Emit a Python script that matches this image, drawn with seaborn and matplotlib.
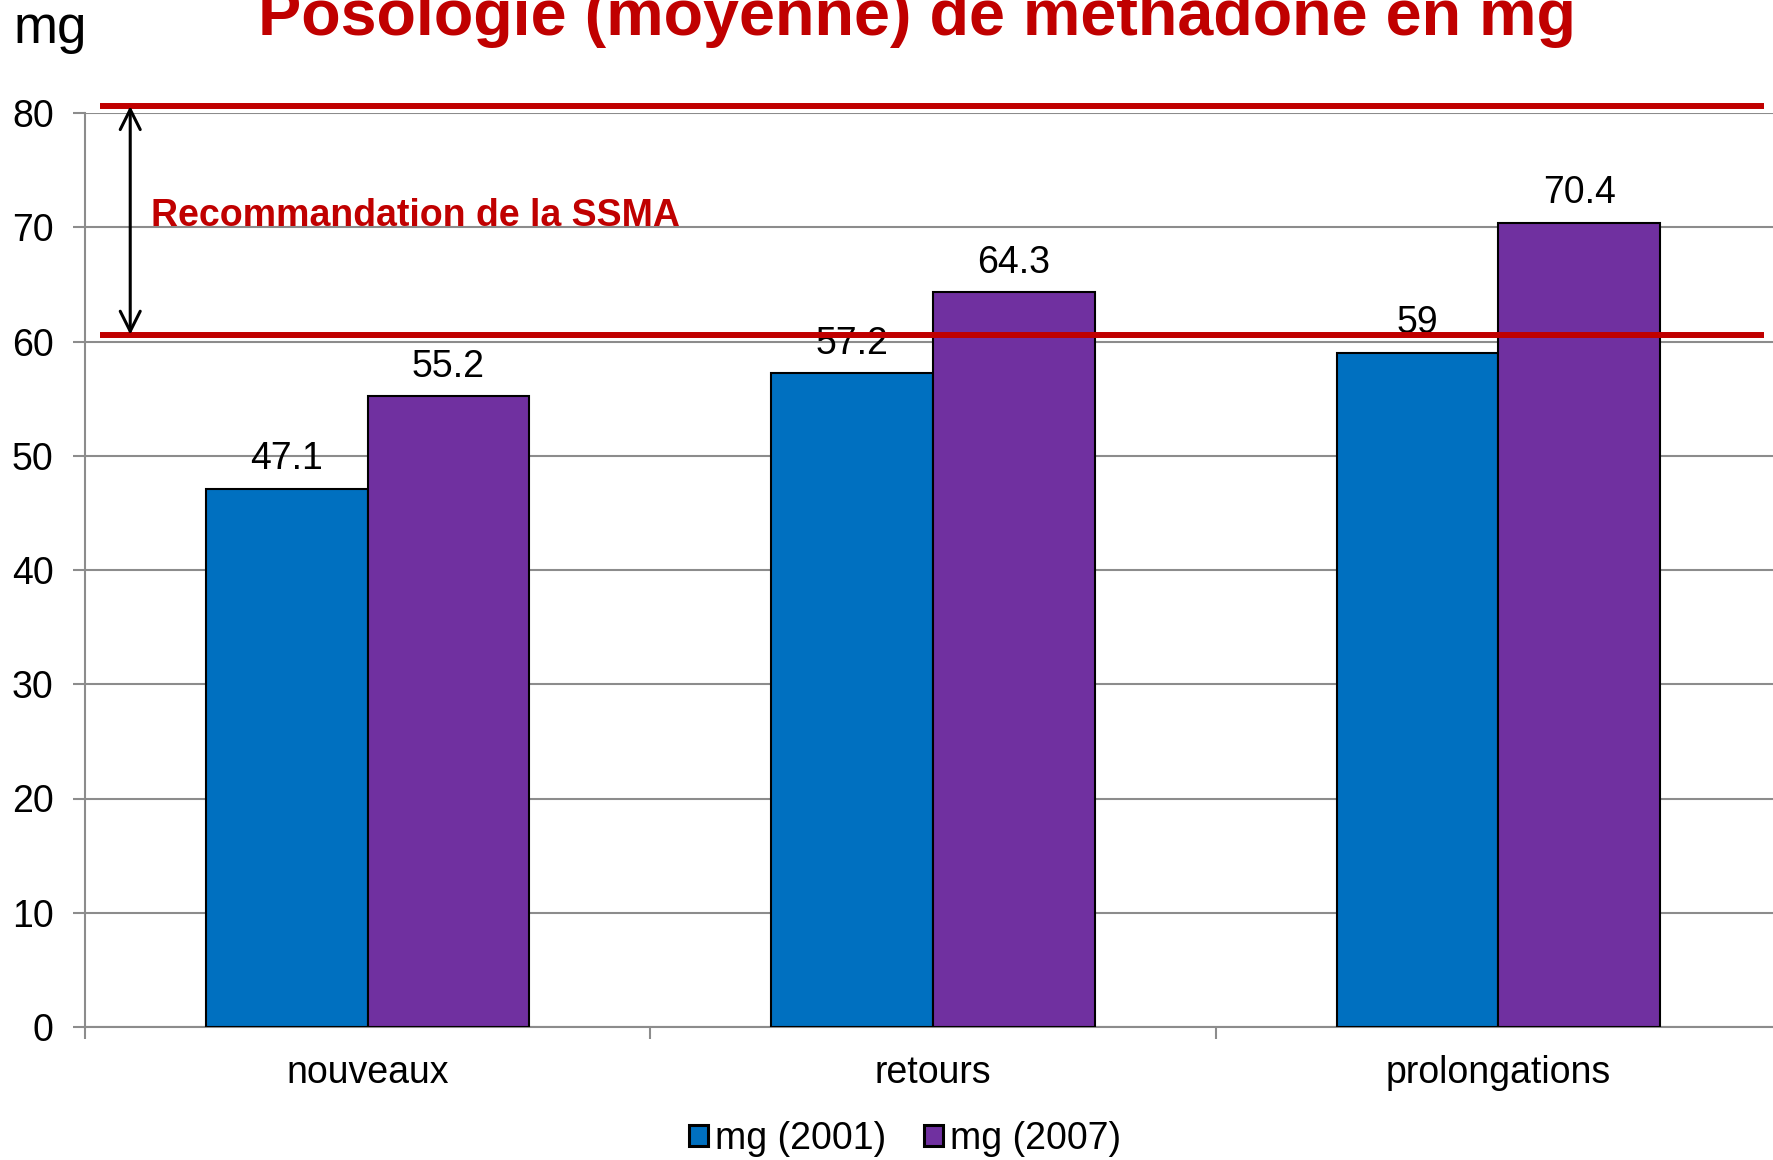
import pandas as pd
import matplotlib.pyplot as plt
import seaborn as sns

# chart values
categories = ['nouveaux', 'retours', 'prolongations']
years = ['mg (2001)', 'mg (2007)']
values_2001 = [47.1, 57.2, 59]
values_2007 = [55.2, 64.3, 70.4]
ssma_low, ssma_high = 60.6, 80.6
y_ticks = [0, 10, 20, 30, 40, 50, 60, 70, 80]

BLUE = '#0070C0'
PURPLE = '#7030A0'
RED = '#C00000'
GRAY = '#8C8C8C'

df = pd.DataFrame({
    'categorie': categories * 2,
    'annee': [years[0]] * 3 + [years[1]] * 3,
    'mg': values_2001 + values_2007,
})

sns.set_style('white')
plt.rcParams['font.family'] = ['Liberation Sans', 'DejaVu Sans']
plt.rcParams['text.color'] = 'black'
plt.rcParams['xtick.labelcolor'] = 'black'
plt.rcParams['ytick.labelcolor'] = 'black'

fig = plt.figure(figsize=(17.73, 11.60), dpi=100)
ax = fig.add_axes([85 / 1773, 1 - 1027 / 1160, (1781 - 85) / 1773, (1027 - 113) / 1160])

sns.barplot(data=df, x='categorie', y='mg', hue='annee', palette=[BLUE, PURPLE],
            width=0.572, edgecolor='black', linewidth=1.5, saturation=1,
            ax=ax, legend=True, zorder=3)

ax.set_xlim(-0.5, 2.5)
ax.set_ylim(0, 80)
ax.set_yticks(y_ticks)
ax.grid(axis='y', color=GRAY, linewidth=1.5, zorder=0)
ax.set_axisbelow(True)
for side in ['top', 'right']:
    ax.spines[side].set_visible(False)
for side in ['left', 'bottom']:
    ax.spines[side].set_color(GRAY)
    ax.spines[side].set_linewidth(1.5)
ax.set_xlabel('')
ax.set_ylabel('')

ax.tick_params(axis='y', direction='out', length=8.5, width=1.5, color=GRAY,
               labelsize=27, pad=14, left=True)
ax.tick_params(axis='x', which='major', length=0, labelsize=27, pad=20)
ax.set_xticks([-0.5, 0.5, 1.5, 2.5], minor=True)
ax.tick_params(axis='x', which='minor', direction='out', length=8.5, width=1.5,
               color=GRAY, bottom=True)

# value labels above bars
for cont in ax.containers:
    for bar in cont:
        h = bar.get_height()
        ax.annotate(f'{h:g}', (bar.get_x() + bar.get_width() / 2, h),
                    xytext=(0, 14), textcoords='offset points',
                    ha='center', va='baseline', fontsize=27, zorder=4)

# SSMA recommendation band
for yv in [ssma_low, ssma_high]:
    ax.plot([-0.474, 2.47], [yv, yv], color=RED, lw=4.3, clip_on=False, zorder=5,
            solid_capstyle='butt')
ax.annotate('', xy=(-0.42, ssma_high), xytext=(-0.42, ssma_low),
            arrowprops=dict(arrowstyle='<->', color='black', lw=2.2, mutation_scale=36,
                            shrinkA=0, shrinkB=0),
            annotation_clip=False, zorder=6)
ax.text(-0.384, 70.1, 'Recommandation de la SSMA', color=RED, fontsize=27,
        fontweight='bold', va='baseline', ha='left', zorder=6)

# legend at the bottom
handles, labels = ax.get_legend_handles_labels()
ax.get_legend().remove()
for h in handles:
    h.set_linewidth(2.2)
fig.legend(handles, labels, loc='center', bbox_to_anchor=(905 / 1773, 1 - 1139 / 1160),
           ncol=2, frameon=False, fontsize=27, handlelength=0.5, handleheight=0.5,
           handletextpad=0.2, columnspacing=1.0)

fig.text(14 / 1773, 1 - 43 / 1160, 'mg', fontsize=38, ha='left', va='baseline')
fig.text(917 / 1773, 1 - 35 / 1160, 'Posologie (moyenne) de méthadone en mg',
         fontsize=46.5, fontweight='bold', color=RED, ha='center', va='baseline')

fig.savefig('out.png', dpi=100)
